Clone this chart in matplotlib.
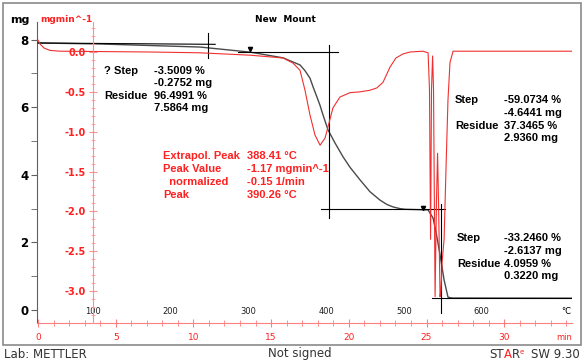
import numpy as np
import matplotlib.pyplot as plt
import matplotlib.transforms as mtransforms
from matplotlib.patches import Rectangle
from matplotlib.ticker import MultipleLocator

# TGA curve: time (min) vs mass (mg)
tga_time = [0.0, 3.99, 10.42, 13.64, 15.77, 16.86, 17.18, 17.50, 17.70, 17.95, 18.15,
            18.34, 18.66, 19.10, 19.63, 20.08, 20.72, 21.36, 22.01, 22.46, 22.84, 23.29,
            23.62, 25.10, 25.42, 25.61, 25.87, 26.13, 26.38, 26.64, 34.36]
tga_mass = [7.90, 7.87, 7.78, 7.63, 7.46, 7.25, 7.08, 6.86, 6.60, 6.30, 6.05,
            5.77, 5.33, 4.95, 4.53, 4.22, 3.85, 3.50, 3.25, 3.12, 3.05, 3.00,
            2.98, 2.96, 2.72, 2.31, 1.63, 0.89, 0.38, 0.355, 0.35]

# DTG curve: time (min) vs mg/min
dtg_time = [0.0, 0.13, 0.39, 0.77, 1.42, 7.21, 10.42, 13.64, 15.77, 16.41, 16.86,
            17.18, 17.50, 17.82, 18.15, 18.47, 18.66, 18.98, 19.43, 20.08, 20.72,
            21.36, 21.81, 22.20, 22.65, 23.03, 23.48, 23.94, 24.77, 25.10, 25.19,
            25.26, 25.32, 25.39, 25.45, 25.55, 25.64, 25.71, 25.77, 25.87, 25.93,
            26.00, 26.13, 26.25, 26.38, 26.51, 26.71, 34.36]
dtg_val = [0.15, 0.10, 0.05, 0.02, 0.01, 0.00, -0.01, -0.04, -0.075, -0.14, -0.23,
           -0.48, -0.79, -1.04, -1.17, -1.08, -0.94, -0.70, -0.565, -0.51, -0.50,
           -0.48, -0.45, -0.38, -0.19, -0.075, -0.025, 0.0, 0.01, -0.01, -0.47,
           -2.35, -0.47, -0.05, -0.47, -3.07, -1.86, -1.27, -1.86, -3.07, -2.99,
           -2.64, -2.35, -1.48, -0.60, -0.13, 0.01, 0.01]

temp_labels = [100, 200, 300, 400, 500, 600]
t_at_100 = 3.54
heat_rate = 20.0

W, H = 585, 363
def fx(px):
    return px / W
def fy(py):
    return 1 - py / H

fig = plt.figure(figsize=(5.85, 3.63), dpi=100)
fig.patches.append(Rectangle((fx(3), fy(345)), fx(578), (345 - 3) / H, transform=fig.transFigure,
                             fill=False, edgecolor='#8a8a8a', lw=1.2))

ax = fig.add_axes([fx(37), fy(323), fx(572) - fx(37), (323 - 22) / H])
ax.set_xlim(-0.064, 34.36)
ax.set_ylim((310 - 323) / 33.8, (310 - 22) / 33.8)
ax.patch.set_visible(False)

ax.plot(tga_time, tga_mass, color='#4a4a4a', lw=1.0, zorder=3)

for s in ['top', 'right']:
    ax.spines[s].set_visible(False)
ax.spines['left'].set_color('#606060')
ax.spines['bottom'].set_color('#ff8080')
ax.yaxis.set_major_locator(MultipleLocator(2))
ax.yaxis.set_minor_locator(MultipleLocator(1))
ax.tick_params(axis='y', which='both', direction='out', length=4, color='#606060',
               labelsize=8.5, pad=2)
for lab in ax.get_yticklabels():
    lab.set_fontweight('bold')
ax.xaxis.set_major_locator(MultipleLocator(5))
ax.xaxis.set_minor_locator(MultipleLocator(1))
ax.tick_params(axis='x', which='major', direction='inout', length=6, color='#ff8080',
               labelsize=6.5, labelcolor='#ff2020', pad=4)
ax.tick_params(axis='x', which='minor', direction='inout', length=4, color='#ff8080')
ax.set_xticks([0, 5, 10, 15, 20, 25, 30])

# temperature labels above the time axis
tr = mtransforms.blended_transform_factory(ax.transData, ax.transAxes)
for T in temp_labels:
    ax.text(t_at_100 + (T - 100) / heat_rate, 0.037, str(T), transform=tr,
            ha='center', va='center', fontsize=6, color='#202020')
ax.text(0.99, 0.037, '°C', transform=ax.transAxes, ha='center', va='center', fontsize=6)
ax.text(0.985, -0.047, 'min', transform=ax.transAxes, ha='center', va='center',
        fontsize=6, color='#ff2020')

# evaluation lines
lk = dict(color='black', lw=0.8, zorder=4)
ax.plot([0.0, 11.4], [7.90, 7.86], **lk)
ax.plot([12.9, 19.3], [7.63, 7.63], **lk)
ax.plot([10.94, 10.94], [8.2, 7.45], **lk)
ax.plot([18.7, 18.7], [7.84, 2.72], **lk)
ax.plot([18.2, 26.2], [2.99, 2.99], **lk)
ax.plot([25.93, 25.93], [3.15, -0.1], **lk)
ax.plot([25.35, 34.36], [0.355, 0.355], **lk)
ax.plot([13.64, 24.77], [7.72, 3.03], 'v', color='black', ms=3, zorder=5)

ax2 = ax.twinx()
ax2.set_ylim((52 - 323) / 79.7, (52 - 22) / 79.7)
ax2.plot(dtg_time, dtg_val, color='#f03030', lw=0.8)
for s in ['top', 'right', 'bottom']:
    ax2.spines[s].set_visible(False)
ax2.spines['left'].set_visible(True)
ax2.spines['left'].set_position(('data', t_at_100))
ax2.spines['left'].set_color('#ff9090')
ax2.yaxis.set_ticks_position('left')
ax2.yaxis.set_label_position('left')
ax2.yaxis.set_major_locator(MultipleLocator(0.5))
ax2.yaxis.set_minor_locator(MultipleLocator(0.1))
ax2.set_yticks([-3.0, -2.5, -2.0, -1.5, -1.0, -0.5, 0.0])
ax2.set_yticklabels(['-3.0', '-2.5', '-2.0', '-1.5', '-1.0', '-0.5', '0.0'])
ax2.tick_params(axis='y', which='major', direction='inout', length=6, color='#ff9090',
                labelsize=7, labelcolor='#ff2020', pad=2)
ax2.tick_params(axis='y', which='minor', direction='inout', length=3, color='#ff9090')
for lab in ax2.get_yticklabels():
    lab.set_fontweight('bold')

# header labels
fig.text(fx(20), fy(20), 'mg', fontsize=8, fontweight='bold', ha='center', va='center')
fig.text(fx(40), fy(20), 'mgmin^-1', fontsize=6.5, fontweight='bold', color='#ff2020',
         ha='left', va='center')
fig.text(fx(285), fy(20), 'New  Mount', fontsize=6.5, fontweight='bold', ha='center', va='center')

fnt = dict(fontsize=8, fontweight='bold', family='Liberation Sans', ha='left', va='center')
def block(x1, x2, y0, rows, color='black', dy=12.5):
    for i, (a, b) in enumerate(rows):
        if a:
            fig.text(fx(x1), fy(y0 + i * dy), a, color=color, **fnt)
        fig.text(fx(x2), fy(y0 + i * dy), b, color=color, **fnt)

block(104, 154, 71, [('? Step', '-3.5009 %'), ('', '-0.2752 mg'),
                     ('Residue', '96.4991 %'), ('', '7.5864 mg')], dy=12.3)
block(455, 504, 100, [('Step', '-59.0734 %'), ('', '-4.6441 mg'),
                      ('Residue', '37.3465 %'), ('', '2.9360 mg')], dy=12.8)
block(457, 504, 238, [('Step', '-33.2460 %'), ('', '-2.6137 mg'),
                      ('Residue', '4.0959 %'), ('', '0.3220 mg')], dy=12.8)
block(163, 247, 156, [('Extrapol. Peak', '388.41 °C'), ('Peak Value', '-1.17 mgmin^-1'),
                      ('  normalized', '-0.15 1/min'), ('Peak', '390.26 °C')],
      color='#ff2020', dy=13)

# footer
ft = dict(fontsize=8.5, color='#333333', va='center')
fig.text(fx(4), fy(354), 'Lab: METTLER', ha='left', **ft)
fig.text(fx(300), fy(354), 'Not signed', ha='center', **ft)
t1 = fig.text(fx(489), fy(354), 'ST', ha='left', **ft)
t2 = ax.annotate('A', xy=(1, 0), xycoords=t1, va='bottom', ha='left', fontsize=8.5,
                 color='#ff2020', annotation_clip=False)
t3 = ax.annotate('R', xy=(1, 0), xycoords=t2, va='bottom', ha='left', fontsize=8.5,
                 color='#333333', annotation_clip=False)
t4 = ax.annotate('e', xy=(1, 0.45), xycoords=t3, va='bottom', ha='left', fontsize=5,
                 color='#ff2020', annotation_clip=False)
fig.text(fx(580), fy(354), 'SW 9.30', ha='right', **ft)

fig.savefig('out.png', dpi=100)
